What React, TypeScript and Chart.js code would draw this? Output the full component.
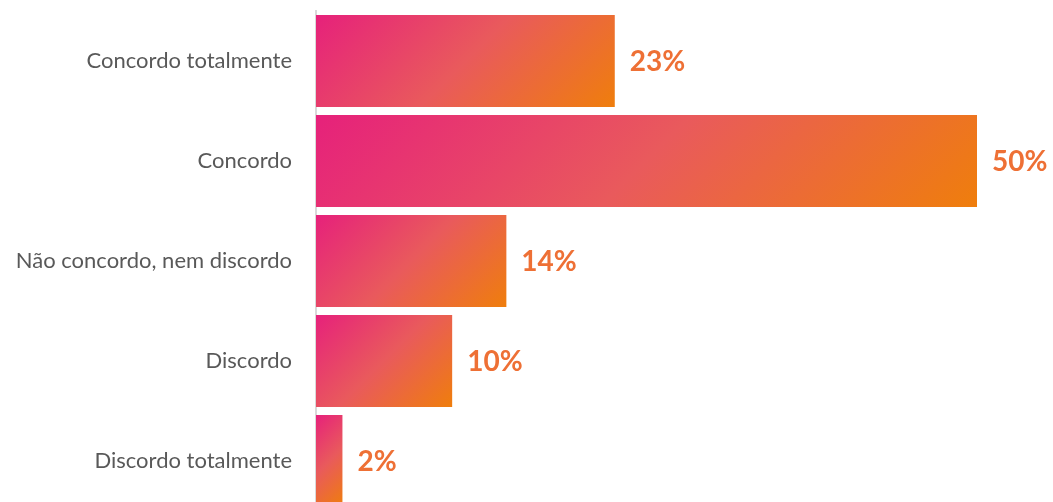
import React, { useEffect, useRef } from "react";
import { Chart, registerables } from "chart.js";

Chart.register(...registerables);

const categories = [
  "Concordo totalmente",
  "Concordo",
  "Não concordo, nem discordo",
  "Discordo",
  "Discordo totalmente",
];
const values = [22.6, 50, 14.4, 10.3, 2.0];
const valueLabels = ["23%", "50%", "14%", "10%", "2%"];

const PINK = "#E6217B";
const MID = "#E95A5C";
const ORANGE = "#EF7E0C";

export default function App() {
  const ref = useRef<HTMLCanvasElement | null>(null);

  useEffect(() => {
    const canvas = ref.current;
    if (!canvas) return;
    document.body.style.overflow = "hidden";

    const labelPlugin = {
      id: "valueLabels",
      afterDatasetsDraw(chart: any) {
        const ctx = chart.ctx;
        const meta = chart.getDatasetMeta(0);
        ctx.save();
        ctx.font = "bold 28px Lato";
        ctx.fillStyle = "#EE7035";
        ctx.textAlign = "left";
        ctx.textBaseline = "middle";
        meta.data.forEach((el: any, i: number) => {
          ctx.fillText(valueLabels[i], el.x + 15, el.y + 1);
        });
        ctx.restore();
      },
    };

    const chart = new Chart(canvas, {
      type: "bar",
      data: {
        labels: categories,
        datasets: [
          {
            data: values,
            backgroundColor: (c: any) => {
              const ch = c.chart;
              if (!ch.chartArea || c.dataIndex === undefined) return PINK;
              const xs = ch.scales.x;
              const ys = ch.scales.y;
              const x0 = xs.getPixelForValue(0);
              const x1 = xs.getPixelForValue(values[c.dataIndex]);
              const yc = ys.getPixelForValue(c.dataIndex);
              const h = 92;
              const w = x1 - x0;
              const top = yc - h / 2;
              const d = (w + h) / 2;
              const g = ch.ctx.createLinearGradient(x0, top, x0 + d, top + d);
              g.addColorStop(0, PINK);
              g.addColorStop(0.5, MID);
              g.addColorStop(1, ORANGE);
              return g;
            },
            borderWidth: 0,
            categoryPercentage: 0.92,
            barPercentage: 1,
          },
        ],
      },
      options: {
        indexAxis: "y",
        animation: false,
        responsive: false,
        maintainAspectRatio: false,
        layout: { padding: { top: 11, bottom: 9, right: 76, left: 0 } },
        plugins: { legend: { display: false }, tooltip: { enabled: false } },
        scales: {
          x: {
            min: 0,
            max: 50,
            display: false,
            grid: { display: false },
          },
          y: {
            afterFit(scale: any) {
              scale.width = 316;
              scale.paddingTop = 0;
              scale.paddingBottom = 0;
            },
            grid: { display: false, drawTicks: false },
            border: { display: true, color: "#D9D9D9", width: 2 },
            ticks: {
              color: "#595959",
              font: { family: "Lato", size: 22 },
              padding: 24,
            },
          },
        },
      },
      plugins: [labelPlugin],
    });
    return () => chart.destroy();
  }, []);

  return (
    <div
      style={{
        position: "fixed",
        left: 0,
        top: 0,
        width: 1053,
        height: 502,
        overflow: "hidden",
        background: "#fff",
      }}
    >
      <canvas ref={ref} width={1053} height={520} style={{ display: "block" }} />
    </div>
  );
}
